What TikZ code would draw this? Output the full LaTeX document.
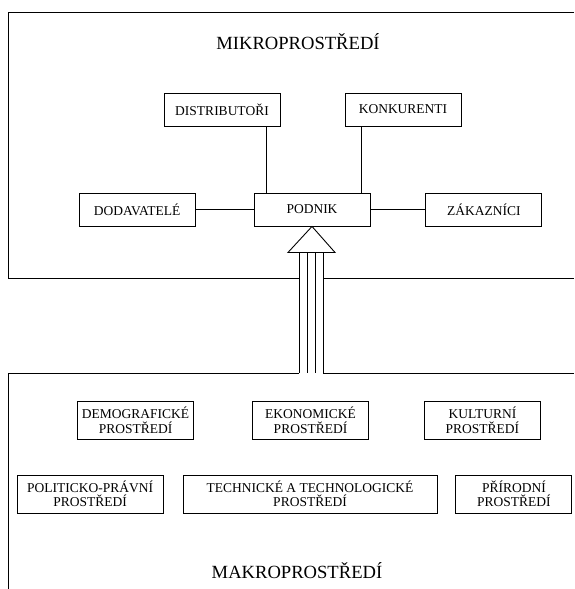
\documentclass[tikz,border=0pt]{standalone}
\usepackage{fontspec}
\setmainfont{Liberation Serif}
\usepackage{tikz}
\usetikzlibrary{positioning, calc}
\tikzset{
  box/.style={rectangle, draw=black, fill=white,
    minimum width=116pt, minimum height=33pt, inner sep=1pt,
    align=center, font=\fontsize{13.5}{14.5}\selectfont, line width=0.9pt},
  widebox/.style={box, minimum height=38pt},
  title/.style={font=\fontsize{18.6}{20}\selectfont},
  frame/.style={line width=0.9pt, color=black},
  line/.style={line width=0.9pt, color=black}
}

\begin{document}
\begin{tikzpicture}[x=1pt, y=-1pt]
  \useasboundingbox (0,0) rectangle (574,589);

  % Frames
  \coordinate (mikrotop) at (8,12);
  \coordinate (mikrobot) at (8,278);
  \coordinate (makrotop) at (8,373);
  \draw[frame] (574,12) -- (mikrotop) -- (mikrobot) -- (299,278);
  \draw[frame] (323,278) -- (574,278);
  \draw[frame] (574,373) -- (323,373);
  \draw[frame] (299,373) -- (makrotop) -- (8,589);

  % Microenvironment
  \node[title] (mikro) at (298,42) {MIKROPROSTŘEDÍ};
  \node[box] (podnik) at (312,209.5) {PODNIK};
  \node[box, left=58pt of podnik] (dodavatele) {DODAVATELÉ};
  \node[box, right=55pt of podnik] (zakaznici) {ZÁKAZNÍCI};
  \node[box] (distributori) at (222,109.5) {DISTRIBUTOŘI};
  \node[box] (konkurenti) at (403,109.5) {KONKURENTI};

  % Macroenvironment
  \node[widebox] (ekonomicke) at (310.5,420.5) {EKONOMICKÉ\\PROSTŘEDÍ};
  \node[widebox, left=58pt of ekonomicke] (demograficke) {DEMOGRAFICKÉ\\PROSTŘEDÍ};
  \node[widebox, right=55pt of ekonomicke] (kulturni) {KULTURNÍ\\PROSTŘEDÍ};
  \node[widebox, minimum width=254pt] (technicke) at (310,494) {TECHNICKÉ A TECHNOLOGICKÉ\\PROSTŘEDÍ};
  \node[widebox, minimum width=146pt, left=19pt of technicke] (politicke) {POLITICKO-PRÁVNÍ\\PROSTŘEDÍ};
  \node[widebox, right=18pt of technicke] (prirodni) {PŘÍRODNÍ\\PROSTŘEDÍ};
  \node[title] (makro) at (297,571) {MAKROPROSTŘEDÍ};

  % Connections
  \draw[line] (dodavatele) -- (podnik);
  \draw[line] (podnik) -- (zakaznici);
  \draw[line] ([xshift=-14pt]distributori.south east) -- ([xshift=-14pt]distributori.south east |- podnik.north);
  \draw[line] ([xshift=17pt]konkurenti.south west) -- ([xshift=17pt]konkurenti.south west |- podnik.north);

  % Influence arrow
  \draw[line] (podnik.south) -- ++(-24,26) -- ++(47,0) -- cycle;
  \foreach \dx in {-13,-5,3,11}
    \draw[line] ([xshift=\dx pt, yshift=-26pt]podnik.south) -- ([xshift=\dx pt]podnik.south |- makrotop);
\end{tikzpicture}
\end{document}
